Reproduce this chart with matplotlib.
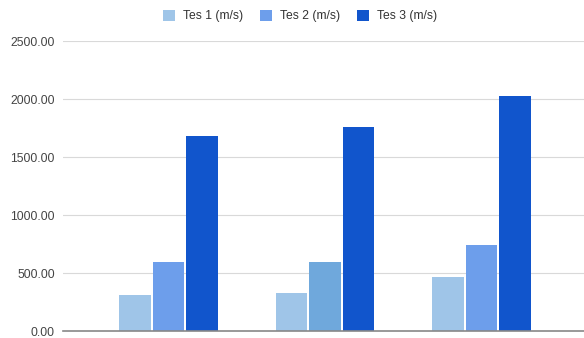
import matplotlib
matplotlib.use("Agg")
import matplotlib.pyplot as plt
import numpy as np
from matplotlib.patches import Patch

categories = ["A", "B", "C"]
series_names = ["Tes 1 (m/s)", "Tes 2 (m/s)", "Tes 3 (m/s)"]
tes1 = [310, 325, 465]
tes2 = [595, 595, 738]
tes3 = [1685, 1762, 2022]
series_colors = ["#9fc5e8", "#6d9eeb", "#1155cc"]
tes2_bar_colors = ["#6d9eeb", "#6fa8dc", "#6d9eeb"]
yticks = [0, 500, 1000, 1500, 2000, 2500]

plt.rcParams['font.family'] = ['Liberation Sans', 'DejaVu Sans']

fig = plt.figure(figsize=(5.84, 3.38), dpi=100)
ax = fig.add_axes([63/584, 7/338, 1 - 63/584, (331-41)/338])

x = np.arange(len(categories))
w = 0.204
off = 0.214
ax.bar(x - off, tes1, w, color=series_colors[0], zorder=3)
ax.bar(x, tes2, w, color=tes2_bar_colors, zorder=3)
ax.bar(x + off, tes3, w, color=series_colors[2], zorder=3)

ax.set_xlim((63-168.5)/156.5, (584-168.5)/156.5)
ax.set_ylim(0, 2500)
ax.set_yticks(yticks)
ax.set_yticklabels([f"{v:.2f}" for v in yticks], fontsize=8.7, color="#444444")
ax.set_xticks([])
ax.tick_params(axis='y', length=0, pad=6)
ax.grid(axis='y', color="#d9d9d9", linewidth=0.8, zorder=0)
for s in ["top", "right", "left"]:
    ax.spines[s].set_visible(False)
ax.spines["bottom"].set_color("#888888")
ax.spines["bottom"].set_linewidth(1.2)
ax.spines["bottom"].set_zorder(4)

handles = [Patch(facecolor=c, edgecolor='none') for c in series_colors]
fig.legend(handles, series_names, loc='center', bbox_to_anchor=(300/584, 1 - 16/338),
           ncol=3, frameon=False, fontsize=8.7, handlelength=1.0, handleheight=1.0,
           handletextpad=0.65, columnspacing=1.4, labelcolor="#333333")

fig.savefig("out.png", dpi=100)
